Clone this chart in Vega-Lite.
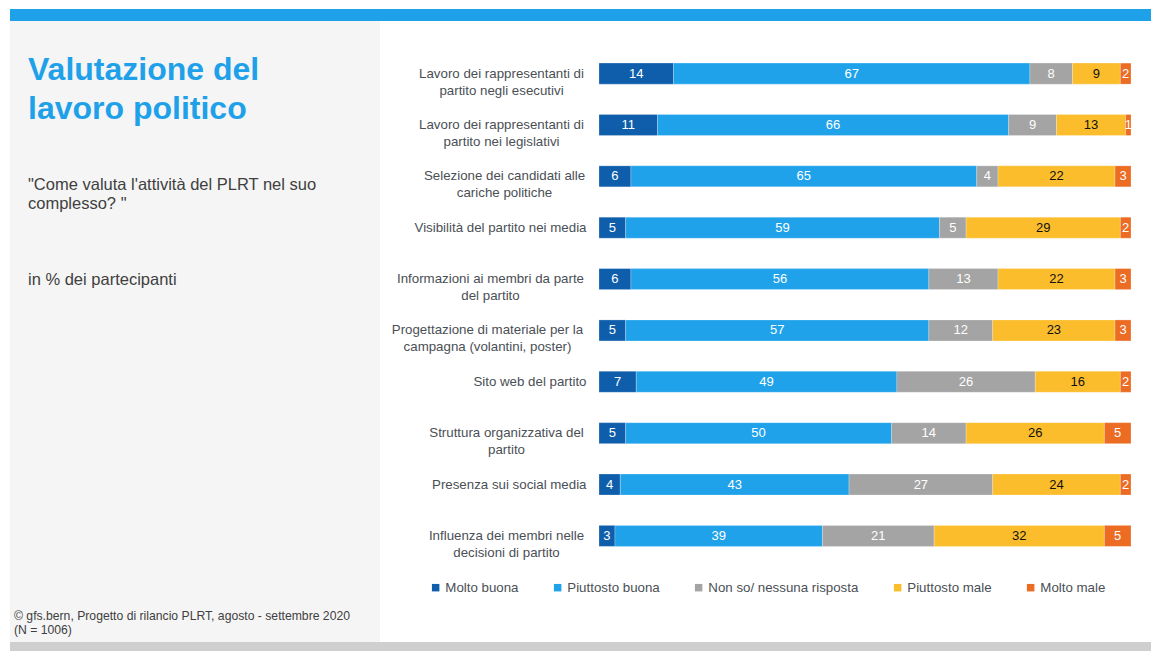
{
  "$schema": "https://vega.github.io/schema/vega-lite/v6.json",
  "background": "white",
  "padding": {"left": 10, "top": 9, "right": 0, "bottom": 0},
  "config": {"view": {"stroke": null}, "font": "Liberation Sans"},
  "spacing": 0,
  "vconcat": [
    {
      "width": 1141, "height": 12,
      "view": {"fill": "#1FA1EA", "stroke": null},
      "data": {"values": []},
      "mark": "text",
      "encoding": {}
    },
    {
      "spacing": 0,
      "hconcat": [
        {
          "spacing": 0,
          "vconcat": [
            {
              "width": 370, "height": 560,
              "view": {"fill": "#F5F5F5", "stroke": null},
              "data": {"values": []},
              "mark": "text",
              "encoding": {},
              "title": {
                "text": ["Valutazione del", "lavoro politico"],
                "subtitle": ["\"Come valuta l'attività del PLRT nel suo", "complesso? \"", "\u200b", "\u200b", "\u200b", "in % dei partecipanti"],
                "anchor": "start", "frame": "group", "orient": "top",
                "offset": -268, "dx": 18,
                "font": "Liberation Sans", "fontSize": 32, "fontWeight": "bold", "color": "#1FA1EA", "lineHeight": 39,
                "subtitleFont": "Liberation Sans", "subtitleFontSize": 16.5, "subtitleColor": "#404040", "subtitleLineHeight": 19, "subtitlePadding": 51
              }
            },
            {
              "width": 370, "height": 61,
              "view": {"fill": "#F5F5F5", "stroke": null},
              "data": {"values": []},
              "mark": "text",
              "encoding": {},
              "title": {
                "text": ["©  gfs.bern, Progetto di rilancio PLRT, agosto - settembre 2020", "(N = 1006)"],
                "anchor": "start", "frame": "group", "orient": "top",
                "offset": -55, "dx": 4,
                "font": "Liberation Sans", "fontSize": 12.2, "fontWeight": "normal", "color": "#404040", "lineHeight": 14
              }
            }
          ]
        },
        {
          "width": 532, "height": 586,
          "data": {"values": [
            {"q": "Lavoro dei rappresentanti di|partito negli esecutivi", "r": "Molto buona", "k": 1, "v": 14},
            {"q": "Lavoro dei rappresentanti di|partito negli esecutivi", "r": "Piuttosto buona", "k": 2, "v": 67},
            {"q": "Lavoro dei rappresentanti di|partito negli esecutivi", "r": "Non so/ nessuna risposta", "k": 3, "v": 8},
            {"q": "Lavoro dei rappresentanti di|partito negli esecutivi", "r": "Piuttosto male", "k": 4, "v": 9},
            {"q": "Lavoro dei rappresentanti di|partito negli esecutivi", "r": "Molto male", "k": 5, "v": 2},
            {"q": "Lavoro dei rappresentanti di|partito nei legislativi", "r": "Molto buona", "k": 1, "v": 11},
            {"q": "Lavoro dei rappresentanti di|partito nei legislativi", "r": "Piuttosto buona", "k": 2, "v": 66},
            {"q": "Lavoro dei rappresentanti di|partito nei legislativi", "r": "Non so/ nessuna risposta", "k": 3, "v": 9},
            {"q": "Lavoro dei rappresentanti di|partito nei legislativi", "r": "Piuttosto male", "k": 4, "v": 13},
            {"q": "Lavoro dei rappresentanti di|partito nei legislativi", "r": "Molto male", "k": 5, "v": 1},
            {"q": "Selezione dei candidati alle|cariche politiche", "r": "Molto buona", "k": 1, "v": 6},
            {"q": "Selezione dei candidati alle|cariche politiche", "r": "Piuttosto buona", "k": 2, "v": 65},
            {"q": "Selezione dei candidati alle|cariche politiche", "r": "Non so/ nessuna risposta", "k": 3, "v": 4},
            {"q": "Selezione dei candidati alle|cariche politiche", "r": "Piuttosto male", "k": 4, "v": 22},
            {"q": "Selezione dei candidati alle|cariche politiche", "r": "Molto male", "k": 5, "v": 3},
            {"q": "Visibilità del partito nei media", "r": "Molto buona", "k": 1, "v": 5},
            {"q": "Visibilità del partito nei media", "r": "Piuttosto buona", "k": 2, "v": 59},
            {"q": "Visibilità del partito nei media", "r": "Non so/ nessuna risposta", "k": 3, "v": 5},
            {"q": "Visibilità del partito nei media", "r": "Piuttosto male", "k": 4, "v": 29},
            {"q": "Visibilità del partito nei media", "r": "Molto male", "k": 5, "v": 2},
            {"q": "Informazioni ai membri da parte|del partito", "r": "Molto buona", "k": 1, "v": 6},
            {"q": "Informazioni ai membri da parte|del partito", "r": "Piuttosto buona", "k": 2, "v": 56},
            {"q": "Informazioni ai membri da parte|del partito", "r": "Non so/ nessuna risposta", "k": 3, "v": 13},
            {"q": "Informazioni ai membri da parte|del partito", "r": "Piuttosto male", "k": 4, "v": 22},
            {"q": "Informazioni ai membri da parte|del partito", "r": "Molto male", "k": 5, "v": 3},
            {"q": "Progettazione di materiale per la|campagna (volantini, poster)", "r": "Molto buona", "k": 1, "v": 5},
            {"q": "Progettazione di materiale per la|campagna (volantini, poster)", "r": "Piuttosto buona", "k": 2, "v": 57},
            {"q": "Progettazione di materiale per la|campagna (volantini, poster)", "r": "Non so/ nessuna risposta", "k": 3, "v": 12},
            {"q": "Progettazione di materiale per la|campagna (volantini, poster)", "r": "Piuttosto male", "k": 4, "v": 23},
            {"q": "Progettazione di materiale per la|campagna (volantini, poster)", "r": "Molto male", "k": 5, "v": 3},
            {"q": "Sito web del partito", "r": "Molto buona", "k": 1, "v": 7},
            {"q": "Sito web del partito", "r": "Piuttosto buona", "k": 2, "v": 49},
            {"q": "Sito web del partito", "r": "Non so/ nessuna risposta", "k": 3, "v": 26},
            {"q": "Sito web del partito", "r": "Piuttosto male", "k": 4, "v": 16},
            {"q": "Sito web del partito", "r": "Molto male", "k": 5, "v": 2},
            {"q": "Struttura organizzativa del|partito", "r": "Molto buona", "k": 1, "v": 5},
            {"q": "Struttura organizzativa del|partito", "r": "Piuttosto buona", "k": 2, "v": 50},
            {"q": "Struttura organizzativa del|partito", "r": "Non so/ nessuna risposta", "k": 3, "v": 14},
            {"q": "Struttura organizzativa del|partito", "r": "Piuttosto male", "k": 4, "v": 26},
            {"q": "Struttura organizzativa del|partito", "r": "Molto male", "k": 5, "v": 5},
            {"q": "Presenza sui social media", "r": "Molto buona", "k": 1, "v": 4},
            {"q": "Presenza sui social media", "r": "Piuttosto buona", "k": 2, "v": 43},
            {"q": "Presenza sui social media", "r": "Non so/ nessuna risposta", "k": 3, "v": 27},
            {"q": "Presenza sui social media", "r": "Piuttosto male", "k": 4, "v": 24},
            {"q": "Presenza sui social media", "r": "Molto male", "k": 5, "v": 2},
            {"q": "Influenza dei membri nelle|decisioni di partito", "r": "Molto buona", "k": 1, "v": 3},
            {"q": "Influenza dei membri nelle|decisioni di partito", "r": "Piuttosto buona", "k": 2, "v": 39},
            {"q": "Influenza dei membri nelle|decisioni di partito", "r": "Non so/ nessuna risposta", "k": 3, "v": 21},
            {"q": "Influenza dei membri nelle|decisioni di partito", "r": "Piuttosto male", "k": 4, "v": 32},
            {"q": "Influenza dei membri nelle|decisioni di partito", "r": "Molto male", "k": 5, "v": 5}
          ]},
          "transform": [
            {"stack": "v", "groupby": ["q"], "sort": [{"field": "k", "order": "ascending"}], "as": ["v0", "v1"]},
            {"calculate": "(datum.v0 + datum.v1) / 2", "as": "vm"}
          ],
          "encoding": {
            "y": {
              "field": "q", "type": "nominal", "sort": null,
              "scale": {"paddingInner": 0.591, "paddingOuter": 1, "align": 0.41},
              "axis": {
                "title": null, "domain": false, "ticks": false, "tickSize": 0,
                "labelExpr": "split(datum.label, '|')",
                "labelFont": "Liberation Sans", "labelFontSize": 13.3, "labelColor": "#4A4F55",
                "labelLimit": 0, "labelLineHeight": 17, "labelBaseline": "middle",
                "labelAlign": {"condition": {"test": "indexof(datum.value, '|') < 0", "value": "right"}, "value": "center"},
                "labelPadding": {"condition": [
                  {"test": "indexof(datum.value, '|') < 0", "value": 13},
                  {"test": "indexof(datum.value, 'Progettazione') >= 0", "value": 112},
                  {"test": "indexof(datum.value, 'Informazioni') >= 0", "value": 109},
                  {"test": "indexof(datum.value, 'Lavoro') >= 0", "value": 98},
                  {"test": "indexof(datum.value, 'Selezione') >= 0", "value": 95}
                ], "value": 93},
                "minExtent": 219, "maxExtent": 219
              }
            }
          },
          "layer": [
            {
              "mark": {"type": "bar", "stroke": "white", "strokeWidth": 0.4, "strokeOpacity": 0.6},
              "encoding": {
                "x": {"field": "v0", "type": "quantitative", "scale": {"domain": [0, 100], "nice": false, "zero": true}, "axis": null},
                "x2": {"field": "v1"},
                "color": {
                  "field": "r", "type": "nominal",
                  "scale": {
                    "domain": ["Molto buona", "Piuttosto buona", "Non so/ nessuna risposta", "Piuttosto male", "Molto male"],
                    "range": ["#0F5EAC", "#20A2EB", "#A4A4A4", "#FBBD2B", "#EB6C22"]
                  },
                  "legend": {
                    "orient": "none", "legendX": 419, "legendY": 572,
                    "direction": "horizontal", "title": null,
                    "symbolType": "square", "symbolSize": 56, "symbolStrokeWidth": 0,
                    "labelFont": "Liberation Sans", "labelFontSize": 13.3, "labelColor": "#4A4F55",
                    "labelOffset": 3, "columnPadding": 32, "padding": 0
                  }
                }
              }
            },
            {
              "mark": {"type": "text", "fontSize": 13, "font": "Liberation Sans", "baseline": "middle", "align": "center"},
              "encoding": {
                "x": {"field": "vm", "type": "quantitative"},
                "text": {"field": "v", "type": "quantitative"},
                "color": {"condition": {"test": "datum.r === 'Piuttosto male'", "value": "#111111"}, "value": "#FFFFFF"}
              }
            }
          ]
        }
      ]
    },
    {
      "width": 1141, "height": 9,
      "view": {"fill": "#CFCFCF", "stroke": null},
      "data": {"values": []},
      "mark": "text",
      "encoding": {}
    }
  ]
}
